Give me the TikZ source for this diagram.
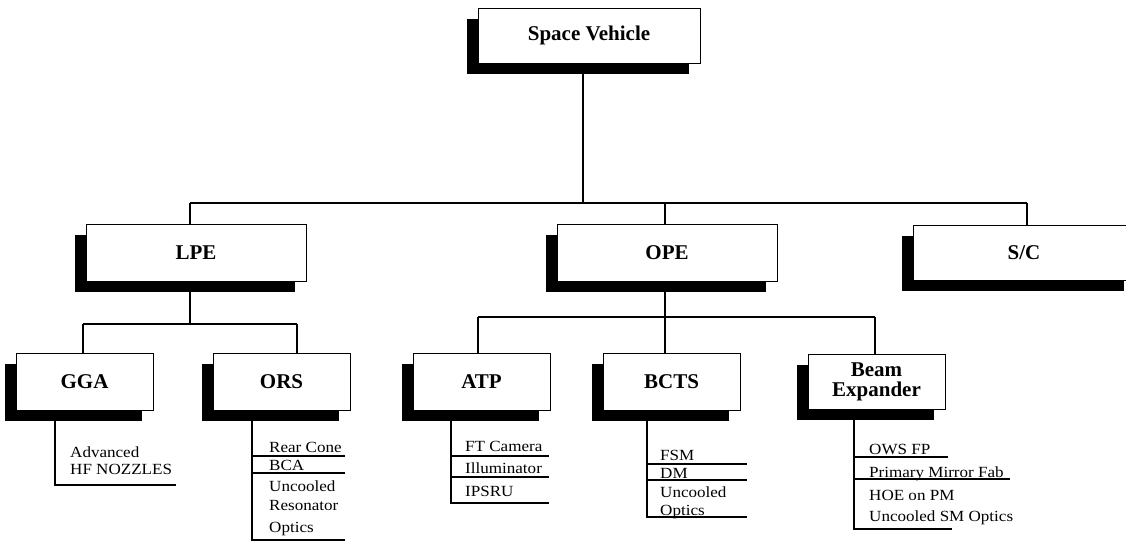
\documentclass[tikz,border=0pt]{standalone}
\usepackage{fontspec}
\setmainfont{Liberation Serif}
\newfontfamily\itemfont[FakeStretch=1.1]{Liberation Serif}
\usetikzlibrary{shadows}
\begin{document}
\begin{tikzpicture}[x=1pt,y=-1pt,
  box/.style={draw=black, line width=0.9pt, fill=white, inner sep=0pt, align=center,
    font=\fontsize{21}{20}\selectfont\bfseries,
    general shadow={fill=black, shadow xshift=-11pt, shadow yshift=-11pt}},
  item/.style={inner sep=0pt, anchor=base west, font=\itemfont\fontsize{15.5}{17}\selectfont},
  conn/.style={line width=1.3pt},
  rule/.style={line width=1.1pt}]
\clip (0,0) rectangle (1126,542);
\fill[white] (0,0) rectangle (1126,542);
% level 0
\node[box, minimum width=222pt, minimum height=55pt] (sv) at (589,35.5) {Space Vehicle};
% level 1
\node[box, minimum width=220pt, minimum height=57pt] (lpe) at (196,252.5) {LPE};
\node[box, minimum width=220pt, minimum height=57pt] (ope) at (667,252.5) {OPE};
\node[box, minimum width=222pt, minimum height=55pt] (sc) at (1024,252.5) {S/C};
% level 2
\node[box, minimum width=137pt, minimum height=57pt] (gga) at (84.5,381.5) {GGA};
\node[box, minimum width=137pt, minimum height=57pt] (ors) at (281.5,381.5) {ORS};
\node[box, minimum width=137pt, minimum height=57pt] (atp) at (481.5,381.5) {ATP};
\node[box, minimum width=137pt, minimum height=57pt] (bcts) at (671.5,381.5) {BCTS};
\node[box, minimum width=137pt, minimum height=55pt] (beam) at (876.5,381.5) {Beam\\Expander};
% junction coordinates
\coordinate (j0) at (583,203);
\coordinate (jl) at (190,203);
\coordinate (jo) at (665,203);
\coordinate (jr) at (1027,203);
\coordinate (k0) at (190,324);
\coordinate (kl) at (83,324);
\coordinate (kr) at (297,324);
\coordinate (m0) at (665,317);
\coordinate (ml) at (478,317);
\coordinate (mr) at (875,317);
% connectors
\draw[conn] (sv.south -| j0) -- (j0);
\draw[conn] (jl) -- (jr);
\draw[conn] (jl) -- (jl |- lpe.north);
\draw[conn] (jo) -- (jo |- ope.north);
\draw[conn] (jr) -- (jr |- sc.north);
\draw[conn] (lpe.south -| k0) -- (k0);
\draw[conn] (kl) -- (kr);
\draw[conn] (kl) -- (kl |- gga.north);
\draw[conn] (kr) -- (kr |- ors.north);
\draw[conn] (ope.south -| m0) -- (m0 |- bcts.north);
\draw[conn] (ml) -- (mr);
\draw[conn] (ml) -- (ml |- atp.north);
\draw[conn] (mr) -- (mr |- beam.north);
% GGA list
\coordinate (ga) at (55,485);
\coordinate (gb) at (176,485);
\draw[rule] (gga.south -| ga) -- (ga) -- (gb);
\node[item] (g1) at (70,457) {Advanced};
\node[item] (g2) at (70,474) {HF NOZZLES};
% ORS list
\coordinate (oa) at (252,540);
\coordinate (ob) at (345,540);
\draw[rule] (ors.south -| oa) -- (oa) -- (ob);
\draw[rule] (252,456) coordinate (o1a) -- (345,456) coordinate (o1b);
\draw[rule] (252,473) coordinate (o2a) -- (345,473) coordinate (o2b);
\node[item] (o1) at (269,452) {Rear Cone};
\node[item] (o2) at (269,470) {BCA};
\node[item] (o3) at (269,491) {Uncooled};
\node[item] (o4) at (269,510) {Resonator};
\node[item] (o5) at (269,532) {Optics};
% ATP list
\coordinate (aa) at (451,503);
\coordinate (ab) at (549,503);
\draw[rule] (atp.south -| aa) -- (aa) -- (ab);
\draw[rule] (451,456) coordinate (a1a) -- (549,456) coordinate (a1b);
\draw[rule] (451,477) coordinate (a2a) -- (549,477) coordinate (a2b);
\node[item] (a1) at (465,451) {FT Camera};
\node[item] (a2) at (465,473) {Illuminator};
\node[item] (a3) at (465,496) {IPSRU};
% BCTS list
\coordinate (ba) at (647,517);
\coordinate (bb) at (747,517);
\draw[rule] (bcts.south -| ba) -- (ba) -- (bb);
\draw[rule] (647,464) coordinate (b1a) -- (747,464) coordinate (b1b);
\draw[rule] (647,480) coordinate (b2a) -- (747,480) coordinate (b2b);
\node[item] (b1) at (660,460) {FSM};
\node[item] (b2) at (660,478) {DM};
\node[item] (b3) at (660,497) {Uncooled};
\node[item] (b4) at (660,515) {Optics};
% Beam Expander list
\coordinate (ea) at (854,529);
\coordinate (eb) at (952,529);
\draw[rule] (beam.south -| ea) -- (ea) -- (eb);
\draw[rule] (854,457) coordinate (e1a) -- (948,457) coordinate (e1b);
\draw[rule] (854,479) coordinate (e2a) -- (1010,479) coordinate (e2b);
\node[item] (e1) at (869,454) {OWS FP};
\node[item] (e2) at (869,477) {Primary Mirror Fab};
\node[item] (e3) at (869,500) {HOE on PM};
\node[item] (e4) at (869,521) {Uncooled SM Optics};
\end{tikzpicture}
\end{document}
